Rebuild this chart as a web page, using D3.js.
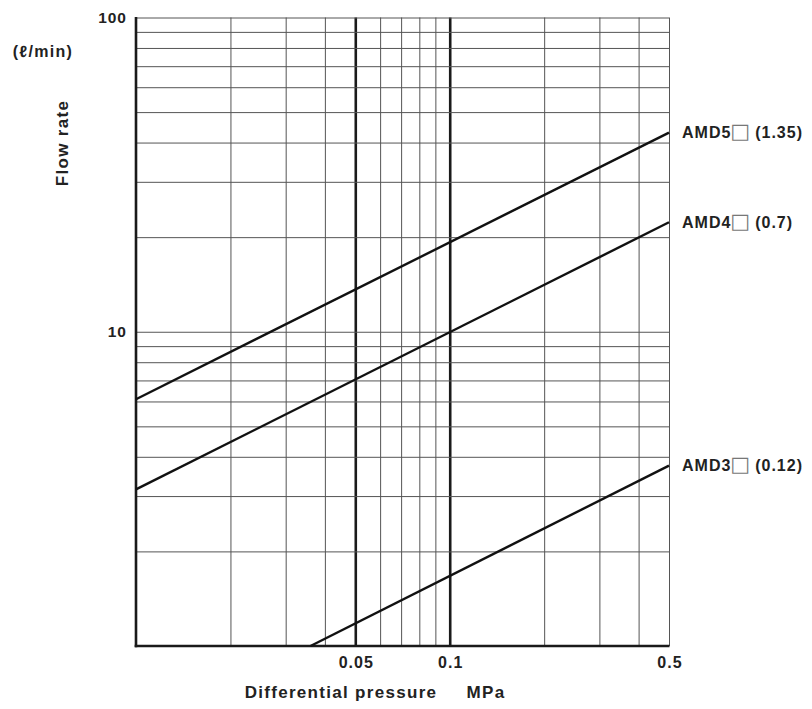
<!DOCTYPE html>
<html>
<head>
<meta charset="utf-8">
<script src="https://cdn.jsdelivr.net/npm/d3@7"></script>
<style>
  body { margin: 0; background: #fff; }
  svg text { font-family: "Liberation Sans", Arial, sans-serif; font-weight: bold; fill: #222; letter-spacing: 1px; }
  .titre { letter-spacing: 1.3px; }
  .boite { font-family: "DejaVu Sans", sans-serif; font-weight: normal; fill: #777; letter-spacing: 0; }
</style>
</head>
<body>
<svg width="812" height="709"></svg>
<script>
// valeurs (échelles log-log)
const xGrid = [0.02, 0.03, 0.04, 0.05, 0.06, 0.07, 0.08, 0.09, 0.1, 0.2, 0.3, 0.4, 0.5];
const xThick = [0.05, 0.1];
const xLabels = [0.05, 0.1, 0.5];
const yGrid = [2, 3, 4, 5, 6, 7, 8, 9, 10, 20, 30, 40, 50, 60, 70, 80, 90, 100];
const yLabels = [10, 100];

// courbes : [pression MPa, débit l/min]
const amd5 = [[0.01, 6.1], [0.5, 43]];
const amd4 = [[0.01, 3.15], [0.5, 22.3]];
const amd3 = [[0.036, 1], [0.5, 3.75]];
const seriesModels = ["AMD5", "AMD4", "AMD3"];
const seriesCv = ["(1.35)", "(0.7)", "(0.12)"];
const series = [amd5, amd4, amd3];

const svg = d3.select("svg");
const mLeft = 136, mRight = 669, mTop = 17.5, mBottom = 646;

const x = d3.scaleLog().domain([0.01, 0.5]).range([mLeft, mRight]);
const y = d3.scaleLog().domain([1, 100]).range([mBottom, mTop]);

// grille verticale
svg.append("g")
  .attr("transform", `translate(0,${mBottom})`)
  .call(d3.axisBottom(x).tickValues(xGrid).tickSize(-(mBottom - mTop)).tickFormat(""))
  .call(g => g.select(".domain").remove())
  .call(g => g.selectAll("line")
    .attr("stroke", d => xThick.includes(d) ? "#1a1a1a" : "#555")
    .attr("stroke-width", d => xThick.includes(d) ? 2.6 : 1));

// grille horizontale
svg.append("g")
  .attr("transform", `translate(${mLeft},0)`)
  .call(d3.axisLeft(y).tickValues(yGrid).tickSize(-(mRight - mLeft)).tickFormat(""))
  .call(g => g.select(".domain").remove())
  .call(g => g.selectAll("line").attr("stroke", "#555").attr("stroke-width", 1));

// axes épais gauche et bas
svg.append("line").attr("x1", mLeft).attr("x2", mLeft).attr("y1", mTop - 0.5).attr("y2", mBottom + 1.3)
  .attr("stroke", "#1a1a1a").attr("stroke-width", 2.6);
svg.append("line").attr("x1", mLeft - 1.3).attr("x2", mRight + 0.5).attr("y1", mBottom).attr("y2", mBottom)
  .attr("stroke", "#1a1a1a").attr("stroke-width", 2.6);

// libellés des axes
svg.append("g")
  .attr("transform", `translate(0,${mBottom})`)
  .call(d3.axisBottom(x).tickValues(xLabels).tickSize(0).tickPadding(11).tickFormat(d3.format("")))
  .call(g => g.select(".domain").remove())
  .call(g => g.selectAll("text").attr("font-size", 16).attr("dx", "0.03em"));

svg.append("g")
  .attr("transform", `translate(${mLeft},0)`)
  .call(d3.axisLeft(y).tickValues(yLabels).tickSize(0).tickPadding(9).tickFormat(d3.format("")))
  .call(g => g.select(".domain").remove())
  .call(g => g.selectAll("text").attr("font-size", 15.5));

// courbes
const line = d3.line().x(d => x(d[0])).y(d => y(d[1]));
svg.append("g")
  .selectAll("path")
  .data(series)
  .join("path")
  .attr("d", line)
  .attr("fill", "none")
  .attr("stroke", "#111")
  .attr("stroke-width", 2.4);

// noms des séries en bout de ligne
const labels = svg.append("g")
  .selectAll("text")
  .data(series)
  .join("text")
  .attr("x", mRight + 13)
  .attr("y", d => y(d[d.length - 1][1]))
  .attr("dy", "0.36em")
  .attr("font-size", 16);
labels.append("tspan").text((d, i) => seriesModels[i]);
labels.append("tspan").attr("class", "boite").attr("font-size", 21).attr("dx", -1).text("□");
labels.append("tspan").attr("dx", 5).text((d, i) => seriesCv[i]);

// titres
svg.append("text").attr("class", "titre").attr("x", 43).attr("y", 57).attr("text-anchor", "middle")
  .attr("font-size", 16).text("(ℓ/min)");
svg.append("text").attr("class", "titre").attr("transform", "translate(68,143) rotate(-90)").attr("text-anchor", "middle")
  .attr("font-size", 17).text("Flow rate");
svg.append("text").attr("class", "titre").attr("x", 341).attr("y", 698).attr("text-anchor", "middle")
  .attr("font-size", 17).text("Differential pressure");
svg.append("text").attr("class", "titre").attr("x", 486).attr("y", 698).attr("text-anchor", "middle")
  .attr("font-size", 17).text("MPa");
</script>
</body>
</html>
